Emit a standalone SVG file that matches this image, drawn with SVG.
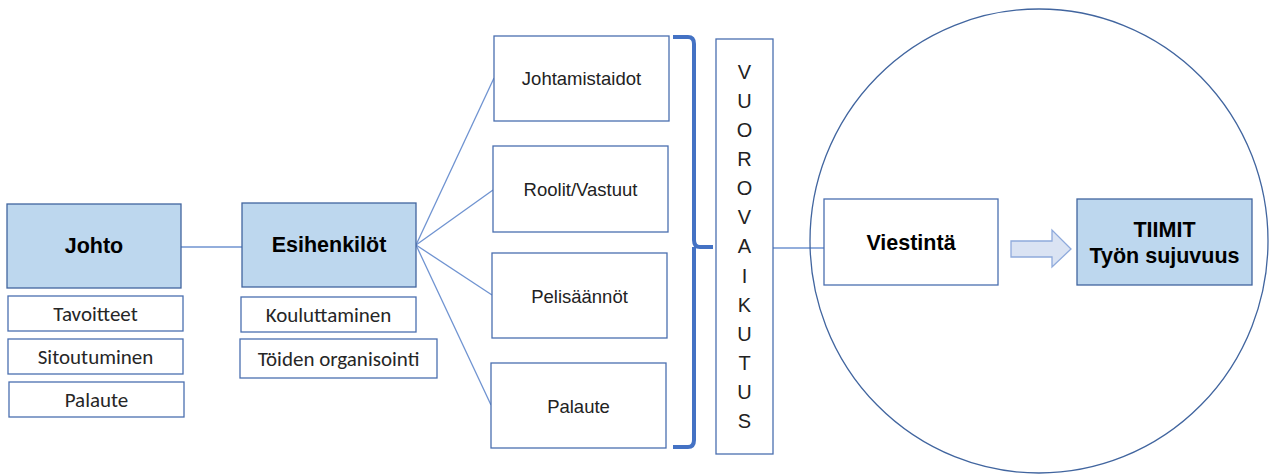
<svg xmlns="http://www.w3.org/2000/svg" width="1270" height="475" viewBox="0 0 1270 475">
  <style>
    .box { fill: #ffffff; stroke: #4a6fb0; stroke-width: 1.3; }
    .key { fill: #bdd7ee; stroke: #41659f; stroke-width: 1.3; }
    .link { fill: none; stroke: #6f93d1; stroke-width: 1.3; }
    .brace { fill: none; stroke: #4472c4; stroke-width: 4; stroke-linejoin: round; }
    .t { font-family: "Liberation Sans", Arial, sans-serif; fill: #222; text-anchor: middle; dominant-baseline: central; }
    .small { font-family: Carlito, "Liberation Sans", Arial, sans-serif; font-size: 21px; fill: #262626; }
    .mid { font-size: 18.5px; }
    .bold { font-weight: bold; font-size: 21.5px; fill: #000; }
    .letter { font-size: 20px; }
  </style>

  <!-- connectors -->
  <g id="connectors">
    <line class="link" x1="181" y1="247" x2="242" y2="247"/>
    <line class="link" x1="416" y1="245" x2="494" y2="78"/>
    <line class="link" x1="416" y1="245" x2="493" y2="190"/>
    <line class="link" x1="416" y1="245" x2="492" y2="295"/>
    <line class="link" x1="416" y1="245" x2="491" y2="405"/>
    <line class="link" x1="773" y1="248" x2="827" y2="248"/>
    <path class="brace" d="M673,37 H688 Q694,37 694,44 V240 Q694,247 700,247 H713 M694,247 Q694,247 694,254 V440 Q694,447 688,447 H673"/>
  </g>

  <!-- surrounding circle -->
  <ellipse id="circle" cx="1039" cy="241" rx="229" ry="232" fill="none" stroke="#41659f" stroke-width="1.3"/>

  <g id="johto">
    <rect class="key" x="7" y="204" width="174" height="84"/>
    <text class="t bold" x="94" y="246">Johto</text>
  </g>
  <g id="tavoitteet">
    <rect class="box" x="8" y="296" width="175" height="35"/>
    <text class="t small" x="95.5" y="314">Tavoitteet</text>
  </g>
  <g id="sitoutuminen">
    <rect class="box" x="8" y="339" width="175" height="35"/>
    <text class="t small" x="95.5" y="357">Sitoutuminen</text>
  </g>
  <g id="palaute-johto">
    <rect class="box" x="9" y="382" width="175" height="35"/>
    <text class="t small" x="96.5" y="400">Palaute</text>
  </g>

  <g id="esihenkilot">
    <rect class="key" x="242" y="203" width="174" height="84"/>
    <text class="t bold" x="329" y="245">Esihenkilöt</text>
  </g>
  <g id="kouluttaminen">
    <rect class="box" x="241" y="297" width="175" height="35"/>
    <text class="t small" x="328.5" y="315">Kouluttaminen</text>
  </g>
  <g id="organisointi">
    <rect class="box" x="240" y="339" width="197" height="39"/>
    <text class="t small" x="338.5" y="359">Töiden organisointi</text>
  </g>

  <g id="johtamistaidot">
    <rect class="box" x="494" y="36" width="175" height="85"/>
    <text class="t mid" x="581.5" y="78">Johtamistaidot</text>
  </g>
  <g id="roolit">
    <rect class="box" x="493" y="146" width="175" height="86"/>
    <text class="t mid" x="580.5" y="189">Roolit/Vastuut</text>
  </g>
  <g id="pelisaannot">
    <rect class="box" x="492" y="253" width="175" height="85"/>
    <text class="t mid" x="579.5" y="296">Pelisäännöt</text>
  </g>
  <g id="palaute">
    <rect class="box" x="491" y="363" width="175" height="85"/>
    <text class="t mid" x="578.5" y="406">Palaute</text>
  </g>

  <g id="vuorovaikutus">
    <rect class="box" x="716" y="39" width="57" height="415"/>
    <g class="t letter">
      <text x="744.5" y="72">V</text>
      <text x="744.5" y="101">U</text>
      <text x="744.5" y="130">O</text>
      <text x="744.5" y="159">R</text>
      <text x="744.5" y="188">O</text>
      <text x="744.5" y="217">V</text>
      <text x="744.5" y="246">A</text>
      <text x="744.5" y="276">I</text>
      <text x="744.5" y="305">K</text>
      <text x="744.5" y="334">U</text>
      <text x="744.5" y="363">T</text>
      <text x="744.5" y="392">U</text>
      <text x="744.5" y="421">S</text>
    </g>
  </g>

  <g id="viestinta">
    <rect class="box" x="824" y="199" width="174" height="86"/>
    <text class="t bold" x="911" y="243">Viestintä</text>
  </g>

  <g id="arrow">
    <path d="M1011,241 H1052 V230 L1071,249 L1052,267 V257 H1011 Z" fill="#dae3f3" stroke="#8faadc" stroke-width="1.3"/>
  </g>

  <g id="tiimit">
    <rect class="key" x="1077" y="199" width="175" height="86"/>
    <text class="t bold" x="1164.5" y="230">TIIMIT</text>
    <text class="t bold" x="1164.5" y="256">Työn sujuvuus</text>
  </g>
</svg>
